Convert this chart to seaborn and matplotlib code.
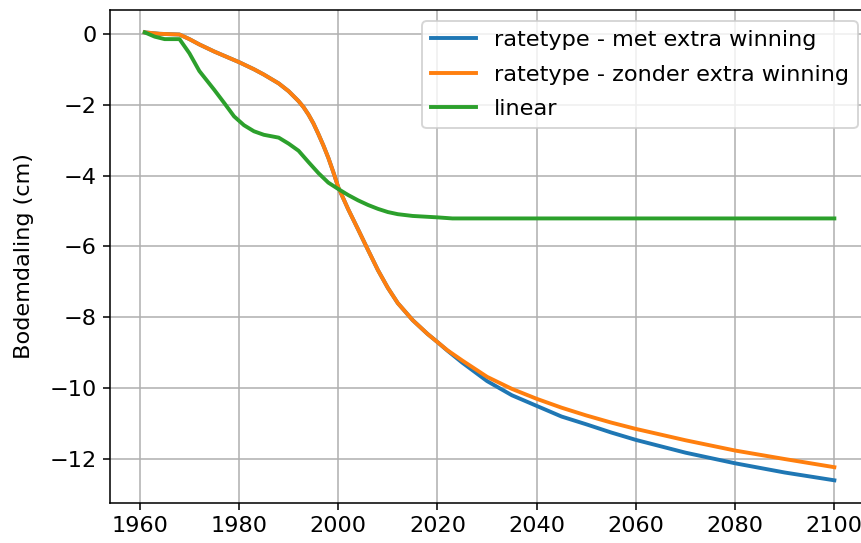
import matplotlib
matplotlib.use('Agg')
import matplotlib.pyplot as plt
import seaborn as sns

# years for the two ratetype runs
years_rate = [1961, 1964, 1968, 1970, 1972, 1975, 1978, 1980, 1983, 1985, 1988, 1990,
              1992, 1993, 1994, 1995, 1996, 1997, 1998, 1999, 2000, 2002, 2004, 2006,
              2008, 2010, 2012, 2015, 2018, 2020, 2022, 2025, 2030, 2035, 2040, 2045,
              2050, 2055, 2060, 2070, 2080, 2090, 2100]

# ratetype - met extra winning
rate_met = [0.04, 0.0, -0.02, -0.15, -0.3, -0.5, -0.68, -0.8, -1.0, -1.15, -1.4, -1.62,
            -1.9, -2.07, -2.28, -2.53, -2.83, -3.15, -3.5, -3.9, -4.33, -4.95, -5.52, -6.1,
            -6.67, -7.17, -7.6, -8.08, -8.47, -8.7, -8.94, -9.28, -9.8, -10.2, -10.5, -10.8,
            -11.02, -11.25, -11.46, -11.82, -12.12, -12.38, -12.6]

# ratetype - zonder extra winning
rate_zonder = [0.04, 0.0, -0.02, -0.15, -0.3, -0.5, -0.68, -0.8, -1.0, -1.15, -1.4, -1.62,
               -1.9, -2.07, -2.28, -2.53, -2.83, -3.15, -3.5, -3.9, -4.33, -4.95, -5.52, -6.1,
               -6.67, -7.17, -7.6, -8.08, -8.47, -8.7, -8.93, -9.22, -9.68, -10.02, -10.3, -10.55,
               -10.77, -10.97, -11.15, -11.47, -11.76, -12.0, -12.23]

# linear model
years_lin = [1961, 1963, 1965, 1968, 1970, 1972, 1975, 1977, 1979, 1981, 1983, 1985,
             1988, 1990, 1992, 1994, 1996, 1998, 2000, 2002, 2004, 2006, 2008, 2010,
             2012, 2015, 2020, 2023, 2100]
linear = [0.04, -0.08, -0.15, -0.15, -0.55, -1.05, -1.58, -1.95, -2.33, -2.58, -2.75, -2.85,
          -2.93, -3.1, -3.3, -3.62, -3.93, -4.2, -4.38, -4.55, -4.7, -4.83, -4.94, -5.03,
          -5.09, -5.14, -5.18, -5.21, -5.21]

plt.rcParams['font.size'] = 11.5

fig = plt.figure(figsize=(861 / 140, 543 / 140), dpi=140)
ax = fig.add_axes([0.1281, 0.0742, 0.881, 0.9074])

sns.lineplot(x=years_rate, y=rate_met, label='ratetype - met extra winning', color='tab:blue', linewidth=2, ax=ax)
sns.lineplot(x=years_rate, y=rate_zonder, label='ratetype - zonder extra winning', color='tab:orange', linewidth=2, ax=ax)
sns.lineplot(x=years_lin, y=linear, label='linear', color='tab:green', linewidth=2, ax=ax)

ax.set_ylabel('Bodemdaling (cm)', labelpad=8)
ax.grid(True)
ax.legend(loc='upper right', labelspacing=0.65)

fig.savefig('out.png', dpi=140)
